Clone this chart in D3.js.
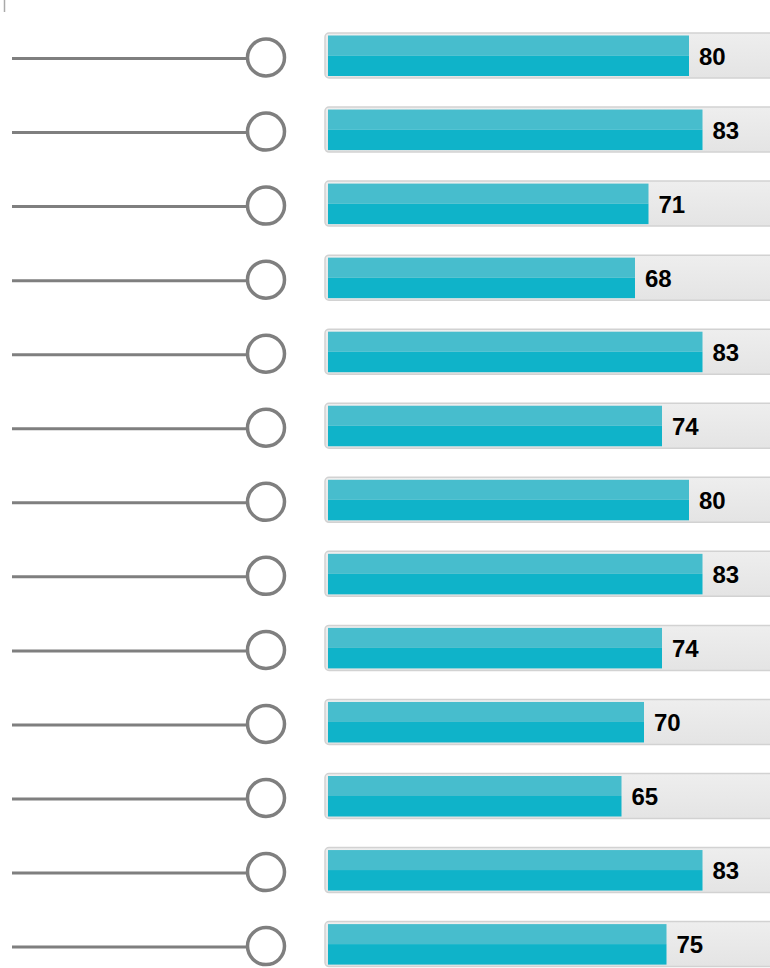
<!DOCTYPE html>
<html>
<head>
<meta charset="utf-8">
<script src="https://cdn.jsdelivr.net/npm/d3@7"></script>
<style>
  body { margin: 0; background: #fff; overflow: hidden; }
</style>
</head>
<body>
<div id="chart"></div>
<script>
// values, top to bottom
const rows = ["r1", "r2", "r3", "r4", "r5", "r6", "r7", "r8", "r9", "r10", "r11", "r12", "r13"];
const values = [80, 83, 71, 68, 83, 74, 80, 83, 74, 70, 65, 83, 75];

const width = 770;
const height = 968;

const svg = d3.select("#chart")
    .append("svg")
    .attr("width", width)
    .attr("height", height);

const defs = svg.append("defs");
const trackGrad = defs.append("linearGradient")
    .attr("id", "track")
    .attr("x1", 0).attr("y1", 0).attr("x2", 0).attr("y2", 1);
trackGrad.append("stop").attr("offset", "0%").attr("stop-color", "#eeeeee");
trackGrad.append("stop").attr("offset", "100%").attr("stop-color", "#e4e4e4");

// rows
const y = d3.scalePoint()
    .domain(rows)
    .range([55.5, 55.5 + 74.05 * (rows.length - 1)]);

// bar length scale
const x = d3.scaleLinear()
    .domain([0, 100])
    .range([329, 779]);

// small tick in the top-left corner
svg.append("line")
    .attr("x1", 4.5).attr("x2", 4.5)
    .attr("y1", 0).attr("y2", 12)
    .attr("stroke", "#aaaaaa")
    .attr("stroke-width", 1.5);

const row = svg.selectAll("g.row")
    .data(rows)
    .enter()
    .append("g")
    .attr("class", "row")
    .attr("transform", d => `translate(0, ${y(d)})`);

// connector line and circle
row.append("line")
    .attr("x1", 12).attr("x2", 247)
    .attr("y1", 3).attr("y2", 3)
    .attr("stroke", "#7f7f7f")
    .attr("stroke-width", 3);

row.append("circle")
    .attr("cx", 266)
    .attr("cy", 2)
    .attr("r", 18.5)
    .attr("fill", "#fff")
    .attr("stroke", "#7f7f7f")
    .attr("stroke-width", 3.5);

// grey track
row.append("rect")
    .attr("x", 325)
    .attr("y", -22.5)
    .attr("width", 470)
    .attr("height", 45)
    .attr("rx", 4)
    .attr("fill", "url(#track)")
    .attr("stroke", "#d2d2d2")
    .attr("stroke-width", 1.5);

// bar: light upper half, darker lower half
row.append("rect")
    .attr("x", 328)
    .attr("y", -20)
    .attr("width", (d, i) => x(values[i]) - 328)
    .attr("height", 20)
    .attr("fill", "#47bdcd");

row.append("rect")
    .attr("x", 328)
    .attr("y", 0)
    .attr("width", (d, i) => x(values[i]) - 328)
    .attr("height", 20.5)
    .attr("fill", "#0fb3c9");

// value labels
row.append("text")
    .attr("x", (d, i) => x(values[i]) + 10)
    .attr("y", 9)
    .text((d, i) => values[i])
    .attr("font-family", "'Liberation Sans', Arial, sans-serif")
    .attr("font-size", "24px")
    .attr("font-weight", "bold")
    .attr("fill", "#000");
</script>
</body>
</html>
